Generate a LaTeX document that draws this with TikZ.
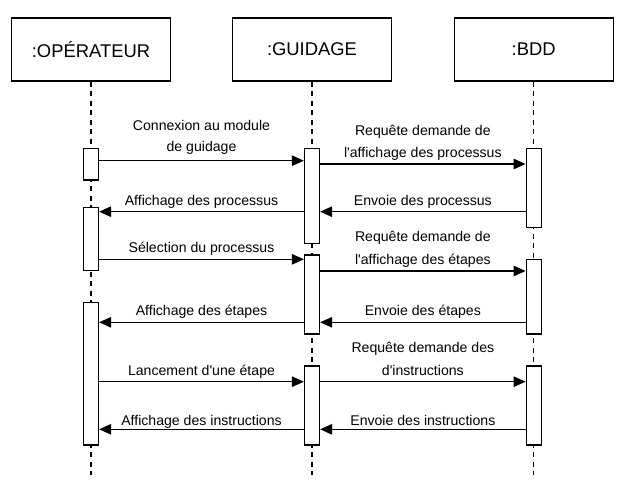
\documentclass[tikz,border=0pt]{standalone}
\usepackage{fontspec}
\setmainfont{Liberation Sans}
\usetikzlibrary{arrows.meta}

\tikzset{
  actor/.style={draw, line width=1.3pt, minimum width=159pt, minimum height=63pt, inner sep=0pt,
    font=\fontsize{18.4}{22}\selectfont},
  life/.style={line width=1.3pt, dash pattern=on 5pt off 4.5pt},
  act/.style={draw, fill=white, line width=1.3pt, minimum width=15pt, inner sep=0pt},
  msg/.style={line width=1.3pt, -{Triangle[length=12pt,width=10.5pt]}},
  lbl/.style={anchor=south, yshift=#1, inner sep=0pt, align=center, font=\fontsize{14.1}{22.5}\selectfont,
    execute at end node={\rule[-3pt]{0pt}{3pt}}},
  lbl/.default=3pt
}

\begin{document}
\begin{tikzpicture}[x=1pt, y=-1pt]
\useasboundingbox (0,0) rectangle (622,492);

% objects:
\node[actor] (op) at (91,49.5) {:OPÉRATEUR};
\node[actor] (gui) at (312,49.5) {:GUIDAGE};
\node[actor] (bdd) at (533.7,49.5) {:BDD};

% lifelines first, boxes go on top
\foreach \who in {op,gui,bdd} {
  \coordinate (\who-end) at (\who.south |- 0,475);
  \draw[life] (\who.south) -- (\who-end);
}

% activation boxes
\node[act, minimum height=31.7pt] (oa1) at (op.south |- 0,164.2) {};
\node[act, minimum height=63.4pt] (oa2) at (op.south |- 0,239) {};
\node[act, minimum height=142.7pt] (oa3) at (op.south |- 0,373.7) {};
\node[act, minimum height=95pt] (ga1) at (gui.south |- 0,195.8) {};
\node[act, minimum height=79pt] (ga2) at (gui.south |- 0,294.5) {};
\node[act, minimum height=79pt] (ga3) at (gui.south |- 0,405.5) {};
\node[act, minimum height=79.4pt] (ba1) at (bdd.south |- 0,188) {};
\node[act, minimum height=74.8pt] (ba2) at (bdd.south |- 0,296.6) {};
\node[act, minimum height=79pt] (ba3) at (bdd.south |- 0,405.5) {};

% messages
\draw[msg] (oa1.east |- 0,160.7) -- node[lbl=5.3pt, font=\fontsize{14.1}{21}\selectfont] {Connexion au module\\de guidage} (ga1.west |- 0,160.7);
\draw[msg] (ga1.east |- 0,164) -- node[lbl, font=\fontsize{14.1}{21.7}\selectfont] {Requête demande de\\l{\textquotesingle}affichage des processus} (ba1.west |- 0,164);
\draw[msg] (ba1.west |- 0,211.7) -- node[lbl] {Envoie des processus} (ga1.east |- 0,211.7);
\draw[msg] (ga1.west |- 0,211.7) -- node[lbl] {Affichage des processus} (oa2.east |- 0,211.7);

\draw[msg] (oa2.east |- 0,259.3) -- node[lbl] {Sélection du processus} (ga2.west |- 0,259.3);
\draw[msg] (ga2.east |- 0,271) -- node[lbl] {Requête demande de\\l{\textquotesingle}affichage des étapes} (ba2.west |- 0,271);
\draw[msg] (ba2.west |- 0,322.3) -- node[lbl] {Envoie des étapes} (ga2.east |- 0,322.3);
\draw[msg] (ga2.west |- 0,322.3) -- node[lbl] {Affichage des étapes} (oa3.east |- 0,322.3);

\draw[msg] (oa3.east |- 0,381.7) -- node[lbl] {Lancement d{\textquotesingle}une étape} (ga3.west |- 0,381.7);
\draw[msg] (ga3.east |- 0,381.7) -- node[lbl] {Requête demande des\\d{\textquotesingle}instructions} (ba3.west |- 0,381.7);
\draw[msg] (ba3.west |- 0,429.3) -- node[lbl=0.3pt] {Envoie des instructions} (ga3.east |- 0,429.3);
\draw[msg] (ga3.west |- 0,429.3) -- node[lbl=0.3pt] {Affichage des instructions} (oa3.east |- 0,429.3);

\end{tikzpicture}
\end{document}
